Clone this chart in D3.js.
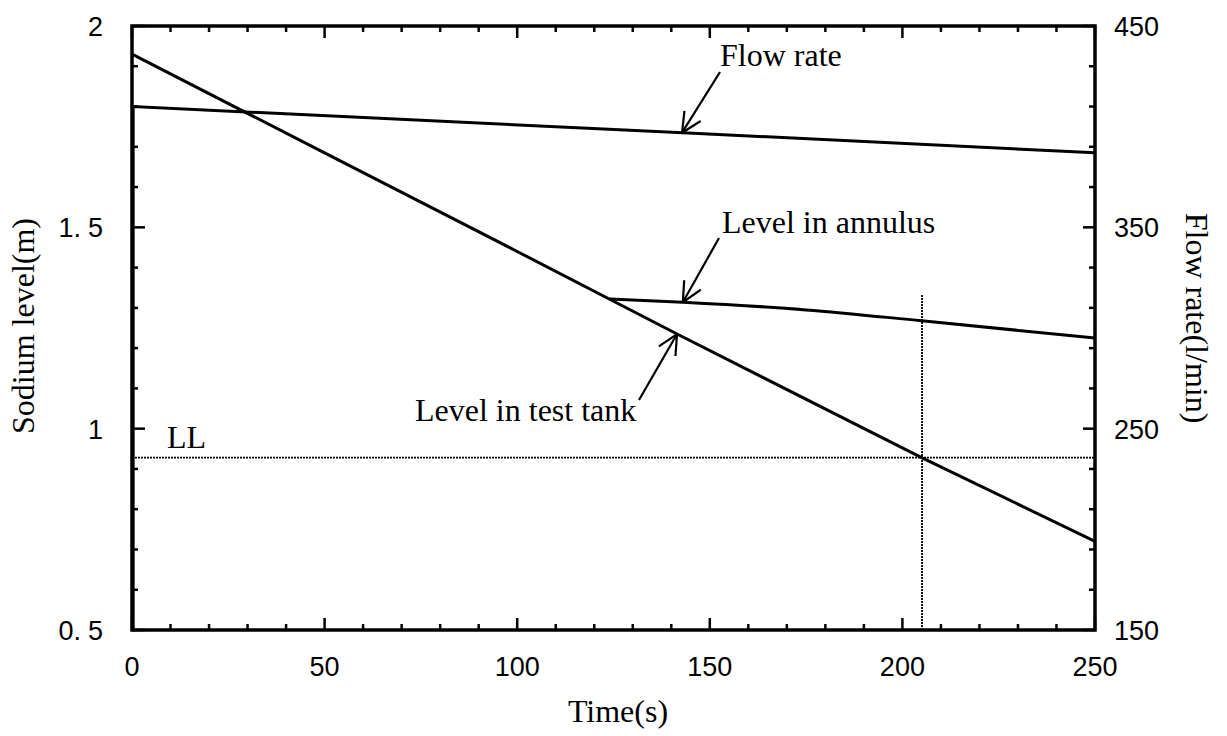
<!DOCTYPE html>
<html>
<head>
<meta charset="utf-8">
<script src="https://cdn.jsdelivr.net/npm/d3@7/dist/d3.min.js"></script>
<style>
  html, body { margin: 0; padding: 0; background: #fff; }
  svg { display: block; }
  .num { font-family: "Liberation Sans", Arial, sans-serif; font-size: 27px; fill: #000; }
  .ser { font-family: "Liberation Serif", "Times New Roman", serif; font-size: 32px; fill: #000; }
</style>
</head>
<body>
<svg id="chart" width="1227" height="736"></svg>
<script>
// Time axis (s)
const timeTicks = [0, 50, 100, 150, 200, 250];
// Left axis: sodium level (m)
const levelTicks = [0.5, 1, 1.5, 2];
const levelTickLabels = ["0.5", "1", "1.5", "2"];
// Right axis: flow rate (l/min)
const flowTicks = [150, 250, 350, 450];

// Level in test tank
const tankTime = [0, 50, 100, 141.5, 205, 250];
const tankLevel = [1.93, 1.685, 1.44, 1.235, 0.928, 0.72];

// Level in annulus
const annulusTime = [124, 143, 175, 205, 250];
const annulusLevel = [1.322, 1.314, 1.295, 1.268, 1.225];

// Flow rate (pump start at t = 0, then slow decline)
const flowTime = [0.3, 0.3, 143, 250];
const flowRate = [150, 410, 397, 387];

// Low-level (LL) limit and the time the tank level reaches it
const llLevel = 0.928;
const llTime = 205.1;
const llMarkTop = 1.332;

const svg = d3.select("#chart");
const L = 132, R = 1095, T = 26, B = 630;

const x = d3.scaleLinear().domain([0, 250]).range([L, R]);
const yL = d3.scaleLinear().domain([0.5, 2]).range([B, T]);
const yR = d3.scaleLinear().domain([150, 450]).range([B, T]);

const ink = "#000";

// Inward ticks on all four sides
const g = svg.append("g");
d3.range(0, 251, 10).forEach(t => {
  const major = t % 50 === 0;
  const len = major ? 12 : 6;
  g.append("line").attr("x1", x(t)).attr("x2", x(t)).attr("y1", B).attr("y2", B - len)
    .attr("stroke", ink).attr("stroke-width", 2.5);
  g.append("line").attr("x1", x(t)).attr("x2", x(t)).attr("y1", T).attr("y2", T + len)
    .attr("stroke", ink).attr("stroke-width", 2.5);
});
d3.range(5, 21, 1).map(v => v / 10).forEach(v => {
  const major = Math.abs(v * 2 - Math.round(v * 2)) < 1e-9;
  const len = major ? 13 : 6;
  g.append("line").attr("x1", L).attr("x2", L + len).attr("y1", yL(v)).attr("y2", yL(v))
    .attr("stroke", ink).attr("stroke-width", 2.5);
});
d3.range(150, 451, 20).forEach(v => {
  const major = (v - 150) % 100 === 0;
  const len = major ? 12 : 6;
  g.append("line").attr("x1", R).attr("x2", R - len).attr("y1", yR(v)).attr("y2", yR(v))
    .attr("stroke", ink).attr("stroke-width", 2.5);
});

// Frame
svg.append("rect").attr("x", L).attr("y", T).attr("width", R - L).attr("height", B - T)
  .attr("fill", "none").attr("stroke", ink).attr("stroke-width", 3.5);

// Tick labels (fixed-width look: the decimal point takes a full digit cell)
function cellDx(s) {
  return s.split("").map((c, i) => (i > 0 && s[i - 1] === ".") ? 7 : 0).join(" ");
}
svg.selectAll(".xl").data(timeTicks).join("text")
  .attr("class", "num").attr("x", d => x(d)).attr("y", 676)
  .attr("text-anchor", "middle").text(d => d);
svg.selectAll(".yl").data(levelTicks).join("text")
  .attr("class", "num").attr("x", 103).attr("y", d => yL(d) + 10)
  .attr("text-anchor", "end")
  .attr("dx", (d, i) => cellDx(levelTickLabels[i]))
  .text((d, i) => levelTickLabels[i]);
svg.selectAll(".yr").data(flowTicks).join("text")
  .attr("class", "num").attr("x", 1114).attr("y", d => yR(d) + 10)
  .attr("text-anchor", "start").text(d => d);

// Axis titles
svg.append("text").attr("class", "ser").attr("x", 618).attr("y", 722)
  .attr("text-anchor", "middle").text("Time(s)");
svg.append("text").attr("class", "ser")
  .attr("transform", "translate(23,326) rotate(-90)")
  .attr("text-anchor", "middle").attr("dominant-baseline", "central").text("Sodium level(m)");
svg.append("text").attr("class", "ser")
  .attr("transform", "translate(1197,318) rotate(90)")
  .attr("text-anchor", "middle").attr("dominant-baseline", "central").text("Flow rate(l/min)");

// Reference lines: LL limit and the time it is reached
svg.append("line").attr("x1", L).attr("x2", R).attr("y1", yL(llLevel)).attr("y2", yL(llLevel))
  .attr("stroke", ink).attr("stroke-width", 1.8).attr("stroke-dasharray", "2,1");
svg.append("line").attr("x1", x(llTime)).attr("x2", x(llTime)).attr("y1", yL(llMarkTop)).attr("y2", B)
  .attr("stroke", ink).attr("stroke-width", 1.8).attr("stroke-dasharray", "2,1");
svg.append("text").attr("class", "ser").attr("x", 167).attr("y", 448).text("LL");

// Series
const lineL = d3.line().x(d => x(d[0])).y(d => yL(d[1]));
const smoothL = d3.line().curve(d3.curveMonotoneX).x(d => x(d[0])).y(d => yL(d[1]));
const lineR = d3.line().x(d => x(d[0])).y(d => yR(d[1]));
svg.append("path").datum(d3.zip(tankTime, tankLevel)).attr("d", lineL)
  .attr("fill", "none").attr("stroke", ink).attr("stroke-width", 3);
svg.append("path").datum(d3.zip(annulusTime, annulusLevel)).attr("d", smoothL)
  .attr("fill", "none").attr("stroke", ink).attr("stroke-width", 3);
svg.append("path").datum(d3.zip(flowTime, flowRate)).attr("d", lineR)
  .attr("fill", "none").attr("stroke", ink).attr("stroke-width", 3);

// Annotation arrows with open heads
function arrow(x0, y0, x1, y1) {
  svg.append("line").attr("x1", x0).attr("y1", y0).attr("x2", x1).attr("y2", y1)
    .attr("stroke", ink).attr("stroke-width", 2.2);
  const a = Math.atan2(y0 - y1, x0 - x1);
  const len = 22, spread = 0.45;
  [a - spread, a + spread].forEach(b => {
    svg.append("line").attr("x1", x1).attr("y1", y1)
      .attr("x2", x1 + len * Math.cos(b)).attr("y2", y1 + len * Math.sin(b))
      .attr("stroke", ink).attr("stroke-width", 2.2);
  });
}

// Flow rate label
arrow(720, 72, x(142.8), yR(397));
svg.append("text").attr("class", "ser").attr("x", 720).attr("y", 66).text("Flow rate");

// Level in annulus label
arrow(719, 238, x(143), yL(1.314));
svg.append("text").attr("class", "ser").attr("x", 722).attr("y", 233).text("Level in annulus");

// Level in test tank label
arrow(639, 400, x(141.5), yL(1.235));
svg.append("text").attr("class", "ser").attr("x", 415).attr("y", 421).text("Level in test tank");
</script>
</body>
</html>
